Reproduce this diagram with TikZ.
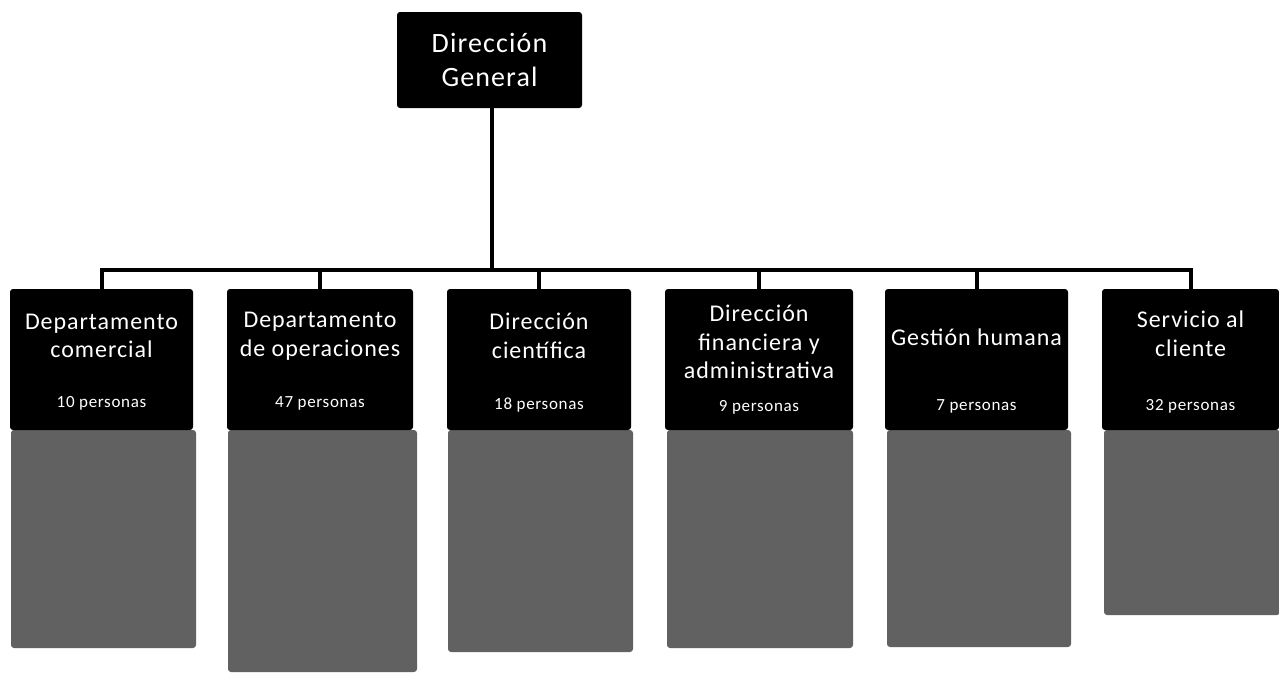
\documentclass[tikz,border=0pt]{standalone}
\usepackage{fontspec}
\setmainfont{Carlito}[LetterSpace=4]
\begin{document}
\begin{tikzpicture}[x=1pt,y=-1pt,
  hdr/.style={draw=none,fill=black,rounded corners=3pt,minimum height=141pt,inner sep=0pt},
  body/.style={draw=none,fill=black!62,rounded corners=3pt,inner sep=0pt},
  ttl/.style={text=white,align=center,font=\fontsize{24}{28.5}\selectfont,inner sep=0pt},
  ppl/.style={text=white,font=\fontsize{17}{20}\selectfont,inner sep=0pt},
  conn/.style={line width=4pt,draw=black}]
\useasboundingbox (0,0) rectangle (1279,672);
% grey bodies
\node[body,minimum width=185pt,minimum height=218pt] (g1) at (103.5,539) {};
\node[body,minimum width=189pt,minimum height=242pt] (g2) at (322.5,551) {};
\node[body,minimum width=185pt,minimum height=222pt] (g3) at (540.5,541) {};
\node[body,minimum width=186pt,minimum height=218pt] (g4) at (760,539) {};
\node[body,minimum width=184pt,minimum height=217pt] (g5) at (979,538.5) {};
\node[body,minimum width=176pt,minimum height=185pt] (g6) at (1192,522.5) {};
% headers
\node[hdr,minimum width=183pt] (b1) at (101.5,359.5) {};
\node[hdr,minimum width=186pt] (b2) at (320,359.5) {};
\node[hdr,minimum width=184pt] (b3) at (539,359.5) {};
\node[hdr,minimum width=188pt] (b4) at (759,359.5) {};
\node[hdr,minimum width=183pt] (b5) at (976.5,359.5) {};
\node[hdr,minimum width=177pt] (b6) at (1190.5,359.5) {};
% top
\node[fill=black,rounded corners=3pt,minimum width=185pt,minimum height=96pt,inner sep=0pt,
  text=white,align=center,font=\fontsize{28}{34}\selectfont] (top) at (489.5,60) {Dirección\\General};
% titles
\node[ttl] (t1) at ([yshift=23.5pt]b1.center) {Departamento\\comercial};
\node[ttl] (t2) at ([yshift=23.5pt]b2.center) {Departamento\\de operaciones};
\node[ttl] (t3) at ([yshift=23.5pt]b3.center) {Dirección\\científica};
\node[ttl] (t4) at ([yshift=17.5pt]b4.center) {Dirección\\financiera y\\administrativa};
\node[ttl] (t5) at ([yshift=22pt]b5.center) {Gestión humana};
\node[ttl] (t6) at ([yshift=26pt]b6.center) {Servicio al\\cliente};
\node[ppl] (p1) at ([yshift=-44pt]b1.center) {10 personas};
\node[ppl] (p2) at ([yshift=-44pt]b2.center) {47 personas};
\node[ppl] (p3) at ([yshift=-46pt]b3.center) {18 personas};
\node[ppl] (p4) at ([yshift=-48pt]b4.center) {9 personas};
\node[ppl] (p5) at ([yshift=-47pt]b5.center) {7 personas};
\node[ppl] (p6) at ([yshift=-47pt]b6.center) {32 personas};
% connectors
\path (top.south) ++(2.5,162) coordinate (j);
\draw[conn] ([xshift=2.5pt]top.south) -- (j);
\foreach \b in {b1,b2,b3,b4,b5,b6}{
  \draw[conn,line cap=rect] (j) -| (\b.north);
}
\end{tikzpicture}
\end{document}
